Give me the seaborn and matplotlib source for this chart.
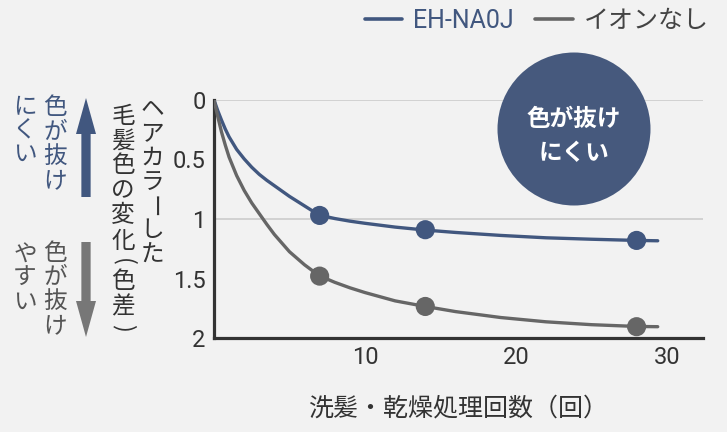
import matplotlib
matplotlib.use("Agg")
import matplotlib.pyplot as plt
import seaborn as sns
import pandas as pd
from matplotlib.patches import Circle, FancyArrow

# ---------------- data ----------------
series_names = ["EH-NA0J", "イオンなし"]
sessions = [7, 14, 28]
na0j_points = [0.97, 1.09, 1.18]
noion_points = [1.48, 1.735, 1.905]

curve_x = [0, 0.25, 0.5, 0.75, 1, 1.5, 2, 2.5, 3, 3.5, 4, 5, 6, 6.5, 7, 7.5, 8, 9, 10,
           12, 14, 16, 19, 22, 25, 28, 29.4]
na0j_curve = [0, 0.09, 0.17, 0.245, 0.31, 0.415, 0.495, 0.565, 0.625, 0.675, 0.72, 0.81,
              0.89, 0.93, 0.962, 0.982, 0.996, 1.018, 1.036, 1.068, 1.093, 1.113, 1.138,
              1.158, 1.17, 1.18, 1.183]
noion_curve = [0, 0.14, 0.27, 0.38, 0.48, 0.635, 0.76, 0.865, 0.955, 1.045, 1.13, 1.275,
               1.385, 1.432, 1.475, 1.505, 1.532, 1.578, 1.618, 1.688, 1.735, 1.778, 1.828,
               1.864, 1.888, 1.903, 1.905]

y_ticks = [0, 0.5, 1, 1.5, 2]
y_tick_labels = ["0", "0.5", "1", "1.5", "2"]
x_ticks = [10, 20, 30]
x_tick_labels = ["10", "20", "30"]
grid_levels = [0, 1]

x_label = "洗髪・乾燥処理回数（回）"
y_label_1 = "ヘアカラーした"
y_label_2 = "毛髪色の変化(色差)"
good_text = ("色が抜け", "にくい")
bad_text = ("色が抜け", "やすい")
badge_text = "色が抜け\nにくい"

# ---------------- style ----------------
BLUE = "#41577f"
GRAY = "#666666"
BG = "#f2f2f2"
TXT = "#333333"
palette = {series_names[0]: BLUE, series_names[1]: GRAY}

sns.set_theme(style="white")
plt.rcParams["font.family"] = ["Roboto", "Noto Sans CJK JP", "DejaVu Sans"]
plt.rcParams["axes.unicode_minus"] = False

W, H = 727, 432
fig = plt.figure(figsize=(W / 100, H / 100), dpi=100, facecolor=BG)
ax = fig.add_axes([214 / W, 1 - 338 / H, (703 - 214) / W, (338 - 100) / H])
ax.set_facecolor(BG)

curves = pd.DataFrame({
    "x": curve_x * 2,
    "y": na0j_curve + noion_curve,
    "series": [series_names[0]] * len(curve_x) + [series_names[1]] * len(curve_x),
})
points = pd.DataFrame({
    "x": sessions * 2,
    "y": na0j_points + noion_points,
    "series": [series_names[0]] * len(sessions) + [series_names[1]] * len(sessions),
})

for g in grid_levels:
    ax.axhline(g, color="#d2d2d2", lw=1.4, zorder=0)

sns.lineplot(data=curves, x="x", y="y", hue="series", palette=palette,
             linewidth=2.4, ax=ax, zorder=3, legend=True)
sns.scatterplot(data=points, x="x", y="y", hue="series", palette=palette,
                s=190, edgecolor="none", ax=ax, zorder=4, legend=False)

ax.set_xlim(0, 32.4)
ax.set_ylim(2, 0)
ax.set_yticks(y_ticks)
ax.set_yticklabels(y_tick_labels)
ax.set_xticks(x_ticks)
ax.set_xticklabels(x_tick_labels)
ax.tick_params(axis="both", length=0, labelsize=17, colors=TXT)
ax.tick_params(axis="y", pad=6)
ax.tick_params(axis="x", pad=6)
ax.set_xlabel(x_label, fontsize=18, color=TXT, labelpad=19,
              family=["Noto Sans CJK JP", "DejaVu Sans"])
ax.set_ylabel("")
for s in ["top", "right"]:
    ax.spines[s].set_visible(False)
for s in ["left", "bottom"]:
    ax.spines[s].set_color("#333333")
    ax.spines[s].set_linewidth(2.3)

# legend at top
handles, labels = ax.get_legend_handles_labels()
if ax.get_legend():
    ax.get_legend().remove()
leg = fig.legend(handles, labels, loc="center right",
                 bbox_to_anchor=(709 / W, 1 - 21 / H), ncol=2, frameon=False,
                 fontsize=18, handlelength=1.5, handletextpad=0.45,
                 columnspacing=0.85, borderpad=0, borderaxespad=0)
for t, c in zip(leg.get_texts(), [BLUE, "#444444"]):
    t.set_color(c)
for l in leg.get_lines():
    l.set_linewidth(2.6)


# vertical (tategaki) text helper
def vtext(text, xc, y_first, pitch, color, size, weight="normal", paren_adv=16):
    y = y_first
    prev_half = None
    for ch in text:
        is_paren = ch in "()"
        half = paren_adv / 2 if is_paren else pitch / 2
        if prev_half is not None:
            y += prev_half + half
        rot = -90 if ch in "()ー" else 0
        fig.text(xc / W, 1 - y / H, ch, ha="center", va="center",
                 fontsize=size, color=color, rotation=rot, weight=weight,
                 family=["Noto Sans CJK JP", "DejaVu Sans"])
        prev_half = half


vtext(y_label_1, 152, 110, 24.2, TXT, 17)
vtext(y_label_2, 123, 116, 25, TXT, 17)
vtext(good_text[0], 55, 108, 24.2, BLUE, 17)
vtext(good_text[1], 25, 108, 23, BLUE, 17)
vtext(bad_text[0], 55, 253, 24.2, "#555555", 17)
vtext(bad_text[1], 25, 255, 23.5, "#555555", 17)


# arrows (in figure pixel coordinates)
def px_arrow(x, y_tail, y_tip, color):
    fig.add_artist(FancyArrow(x / W, 1 - y_tail / H, 0, (y_tail - y_tip) / H,
                              width=5.5 / H, head_width=20 / W, head_length=36 / H,
                              length_includes_head=True, color=color,
                              transform=fig.transFigure, lw=0))


px_arrow(86, 197, 98, BLUE)
px_arrow(86, 242, 337, "#777777")

# badge circle
fig.add_artist(Circle((574 / 100, (H - 129) / 100), 0.765, transform=fig.dpi_scale_trans,
                      facecolor="#46597d", edgecolor="none", zorder=5))
fig.text(574 / W, 1 - 136 / H, badge_text, ha="center", va="center", fontsize=17,
         color="white", weight="bold", linespacing=1.55, zorder=6,
         family=["Noto Sans CJK JP", "DejaVu Sans"])

fig.savefig("out.png", dpi=100, facecolor=BG)
